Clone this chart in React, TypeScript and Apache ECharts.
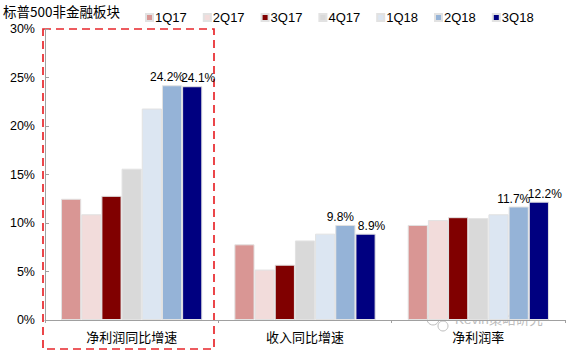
import React, { useEffect, useRef } from "react";
import * as echarts from "echarts";

const categories = ["净利润同比增速", "收入同比增速", "净利润率"];
const seriesNames = ["1Q17", "2Q17", "3Q17", "4Q17", "1Q18", "2Q18", "3Q18"];
const colors = ["#D99694", "#F2DCDB", "#800000", "#D9D9D9", "#DCE6F2", "#95B3D7", "#000080"];
const v1Q17 = [12.5, 7.8, 9.8];
const v2Q17 = [10.9, 5.2, 10.3];
const v3Q17 = [12.8, 5.7, 10.6];
const v4Q17 = [15.6, 8.2, 10.5];
const v1Q18 = [21.8, 8.9, 10.9];
const v2Q18 = [24.2, 9.8, 11.7];
const v3Q18 = [24.1, 8.9, 12.2];
const allValues = [v1Q17, v2Q17, v3Q17, v4Q17, v1Q18, v2Q18, v3Q18];
const labeled = [false, false, false, false, false, true, true];
const labelShift = [0, 0, 0, 0, 0, -5, 6];

const FONT = "'Liberation Sans', 'Noto Sans CJK SC', sans-serif";
const CJK = "'Noto Sans CJK SC', sans-serif";

export default function App() {
  const ref = useRef<HTMLDivElement>(null);
  useEffect(() => {
    if (!ref.current) return;
    document.body.style.margin = "0";
    const chart = echarts.init(ref.current, null, { renderer: "svg" });
    chart.setOption({
      animation: false,
      textStyle: { fontFamily: FONT },
      legend: {
        left: 140,
        top: 6,
        itemWidth: 7,
        itemHeight: 7,
        itemGap: 16,
        icon: "rect",
        textStyle: { fontSize: 13, color: "#000", fontFamily: FONT, padding: [0, 0, 0, -3] },
        data: seriesNames,
      },
      grid: { left: 45, right: 9, top: 29, bottom: 31, containLabel: false },
      xAxis: {
        type: "category",
        data: categories,
        axisLine: { lineStyle: { color: "#A0A0A0", width: 1 } },
        axisTick: { show: true, length: 3, lineStyle: { color: "#A0A0A0" } },
        axisLabel: { fontSize: 13, color: "#000", margin: 10, fontFamily: CJK },
      },
      yAxis: {
        type: "value",
        min: 0,
        max: 30,
        interval: 5,
        axisLine: { show: true, lineStyle: { color: "#A0A0A0" } },
        axisTick: { show: true, inside: true, length: 4, lineStyle: { color: "#A0A0A0" } },
        splitLine: { show: false },
        axisLabel: { fontSize: 12.5, color: "#000", margin: 10, formatter: (v: number) => v + "%" },
      },
      series: allValues.map((vals, i) => ({
        name: seriesNames[i],
        type: "bar",
        data: vals,
        barGap: "0%",
        barCategoryGap: "18.5%",
        itemStyle: { color: colors[i], borderColor: "#E2E2E2", borderWidth: 1 },
        label: {
          show: labeled[i],
          position: "top",
          distance: 2,
          offset: [labelShift[i], 0],
          fontSize: 12,
          color: "#000",
          fontFamily: FONT,
          formatter: (p: any) => p.value.toFixed(1) + "%",
        },
      })),
      graphic: [
        {
          type: "text",
          left: 3,
          top: 4,
          style: { text: "标普500非金融板块", fontSize: 13.5, fill: "#000", fontFamily: CJK },
        },
        {
          type: "rect",
          shape: { x: 43, y: 29, width: 171, height: 320 },
          style: { fill: "none", stroke: "#E8262B", lineWidth: 1.7, lineDash: [8, 5] },
        },
        {
          type: "text",
          left: 455,
          top: 313,
          style: { text: "Kevin策略研究", fontSize: 13.5, fill: "#BDBDBD", fontFamily: FONT },
        },
        {
          type: "circle",
          shape: { cx: 433, cy: 319, r: 6 },
          style: { fill: "rgba(255,255,255,0.6)", stroke: "#BDBDBD", lineWidth: 1 },
        },
        {
          type: "circle",
          shape: { cx: 443, cy: 326, r: 5 },
          style: { fill: "rgba(255,255,255,0.6)", stroke: "#BDBDBD", lineWidth: 1 },
        },
      ],
    });
    return () => chart.dispose();
  }, []);
  return <div ref={ref} style={{ width: 574, height: 351 }} />;
}
